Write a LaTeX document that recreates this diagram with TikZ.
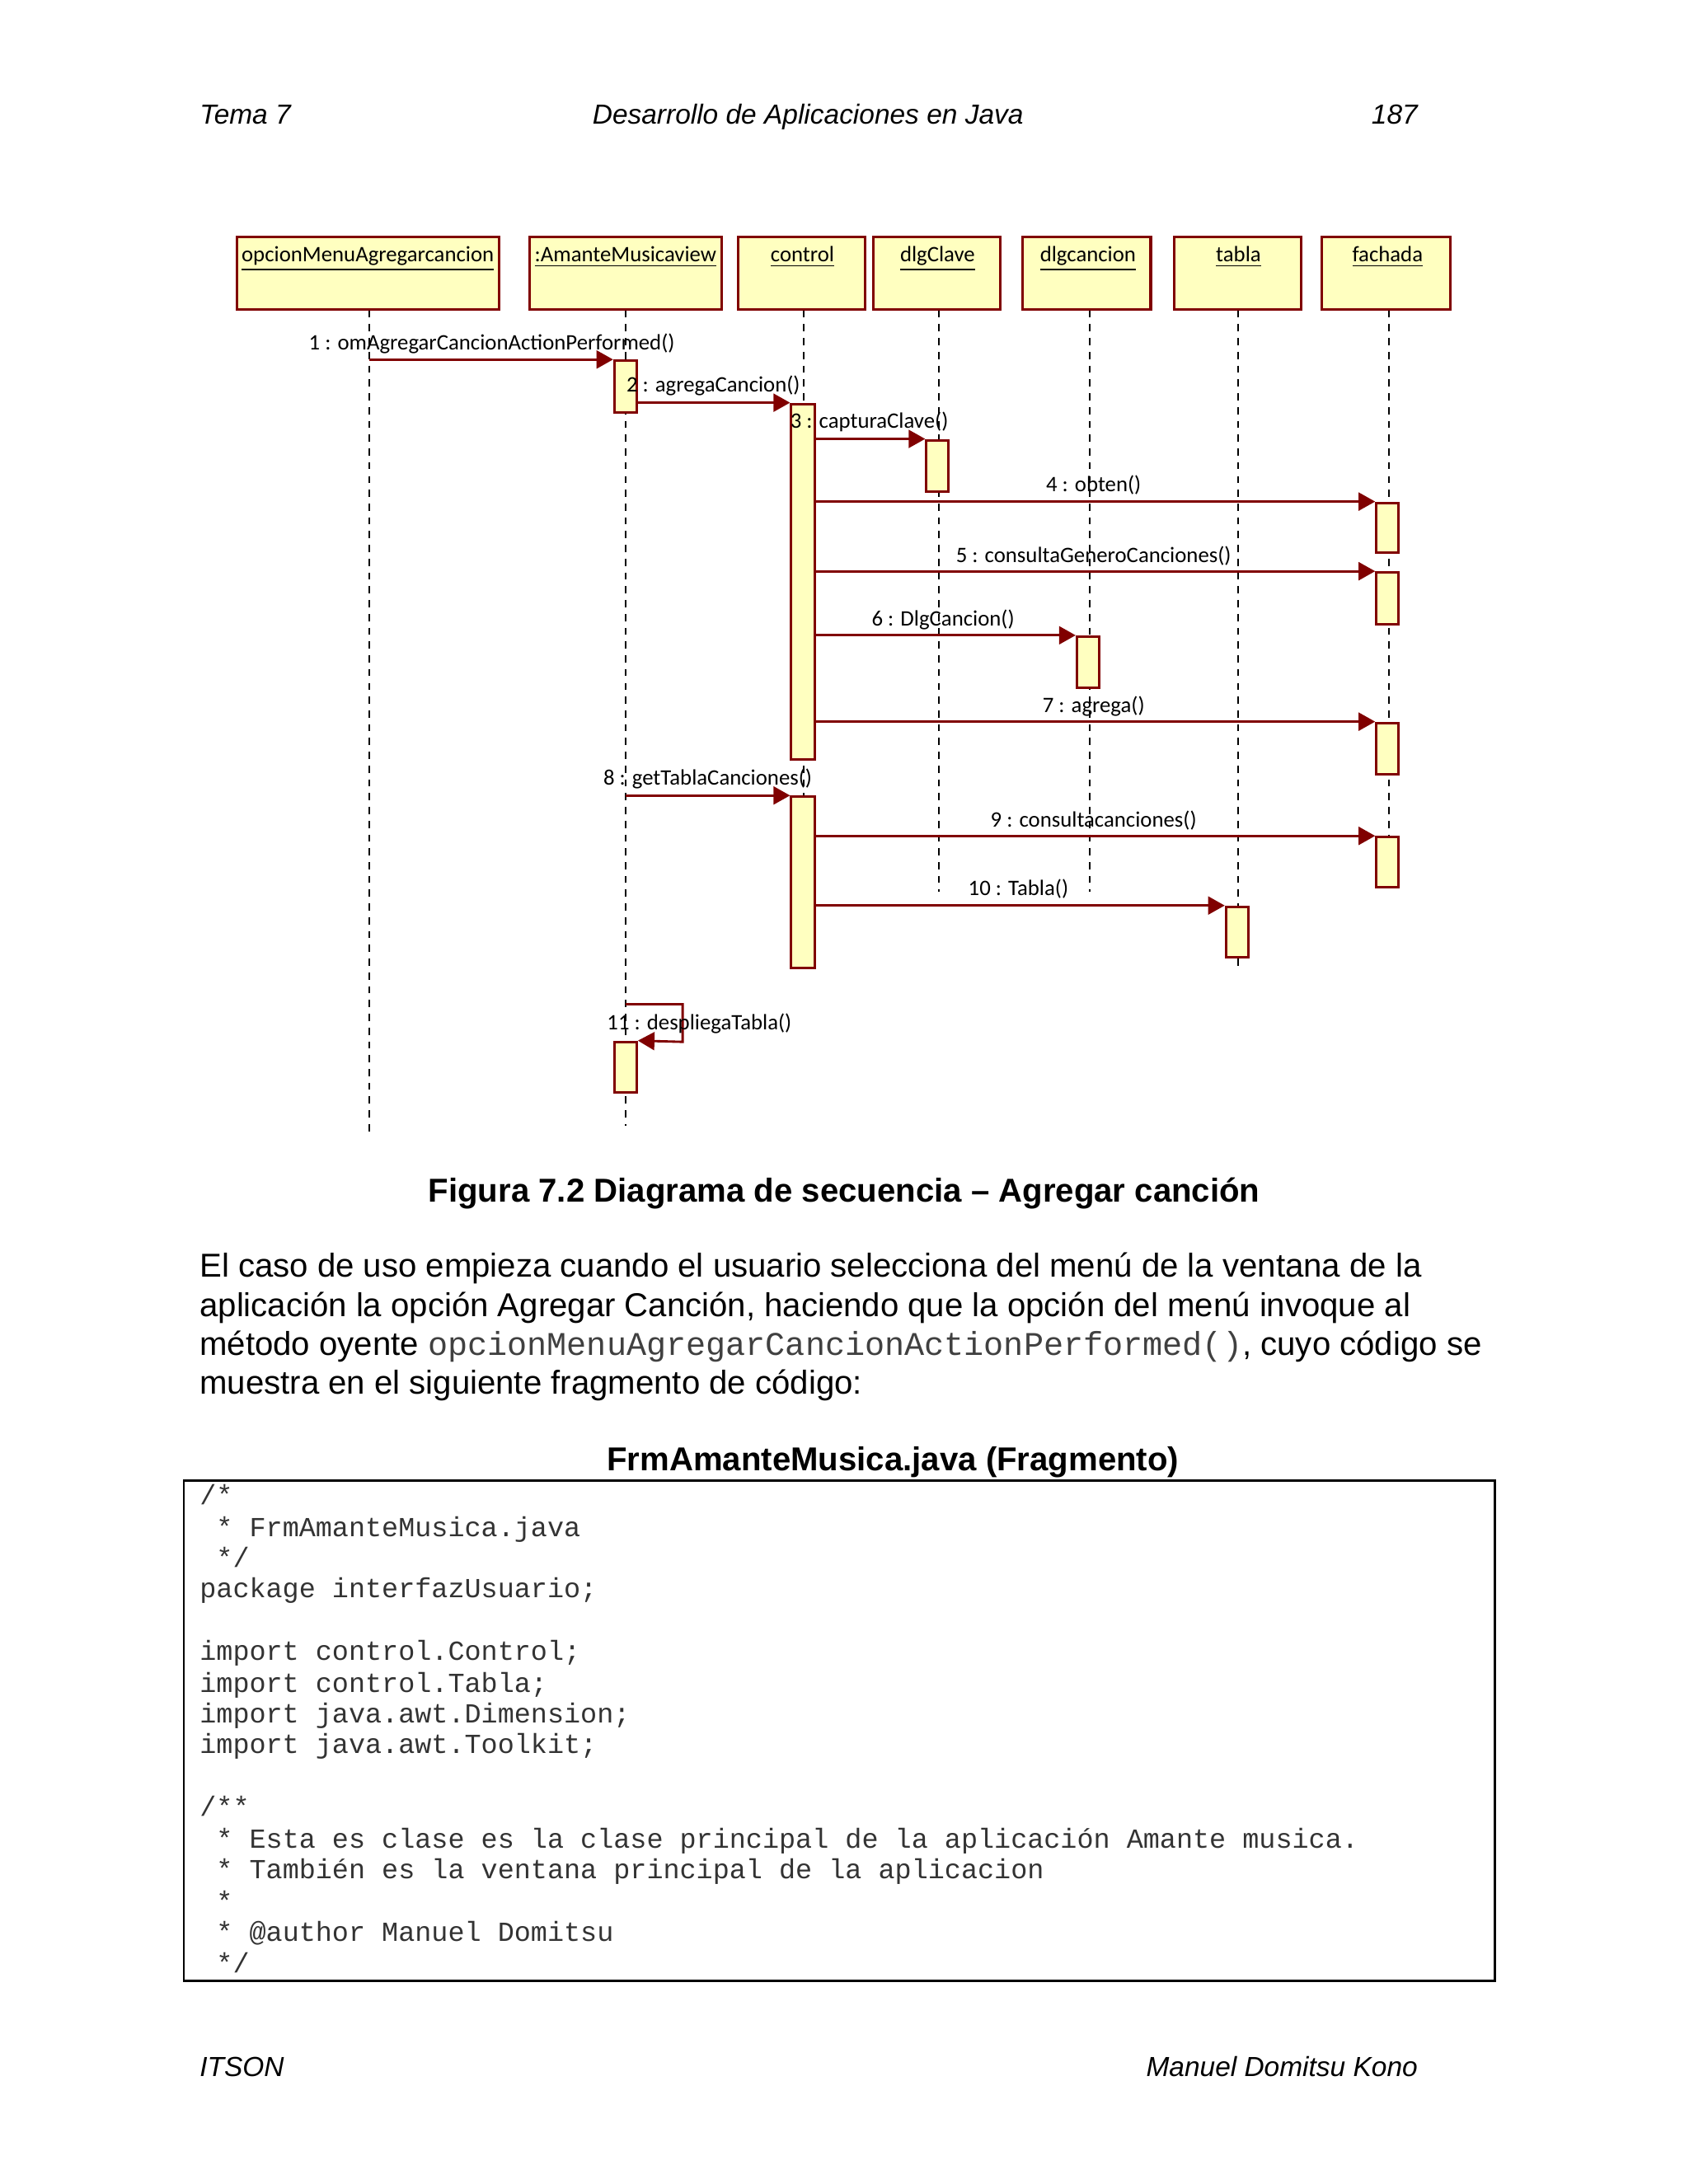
\documentclass[tikz,border=0pt]{standalone}
\usepackage{fontspec}
\setmainfont{Liberation Sans}
\setmonofont{Liberation Mono}
\newfontfamily\umlfont{Carlito}
\usetikzlibrary{arrows.meta,fit}
\definecolor{uml}{HTML}{800000}
\definecolor{umlfill}{HTML}{FFFFC0}
\begin{document}
\begin{tikzpicture}[x=0.505pt,y=-0.505pt,
  objbox/.style={draw=uml,fill=umlfill,line width=0.9pt,inner sep=0pt},
  act/.style={draw=uml,fill=umlfill,line width=0.9pt,inner sep=0pt},
  life/.style={black,line width=0.6pt,dash pattern=on 2.6pt off 2.4pt},
  msg/.style={draw=uml,line width=0.85pt,-{Triangle[length=6pt,width=6.5pt]}},
  objlbl/.style={font=\umlfont\fontsize{8}{9}\selectfont,inner sep=0pt},
  lbl/.style={font=\umlfont\fontsize{8}{9}\selectfont,inner sep=0pt},
  hdr/.style={font=\fontsize{10}{12}\selectfont\itshape,inner sep=0pt},
  body/.style={font=\fontsize{12}{14}\selectfont,inner sep=0pt,anchor=base west},
  bodybold/.style={font=\fontsize{12}{14}\selectfont\bfseries,inner sep=0pt,anchor=base},
  code/.style={font=\fontsize{10}{11.3}\selectfont\ttfamily,text=black!80,inner sep=0pt,anchor=base west}]
\useasboundingbox (0,0) rectangle (1212,1568);
\fill[white] (0,0) rectangle (1212,1568);

% header and footer
\node[hdr,anchor=base west] (h1) at (143,89) {Tema 7};
\node[hdr,anchor=base] (h2) at (580,89) {Desarrollo de Aplicaciones en Java};
\node[hdr,anchor=base east] (h3) at (1018,89) {187};
\node[hdr,anchor=base west] (f1) at (143,1491) {ITSON};
\node[hdr,anchor=base east] (f2) at (1018,1491) {Manuel Domitsu Kono};

% object boxes
\node[objbox,fit={(170,170)(358,222)}] (op) {};
\node[objbox,fit={(380,170)(518,222)}] (am) {};
\node[objbox,fit={(530,170)(621,222)}] (ct) {};
\node[objbox,fit={(627,170)(718,222)}] (dk) {};
\node[objbox,fit={(734,170)(826,222)}] (dc) {};
\node[objbox,fit={(843,170)(934,222)}] (tb) {};
\node[objbox,fit={(949,170)(1041,222)}] (fa) {};
\node[objlbl,anchor=base] (opl) at (264,188) {\underline{opcionMenuAgregarcancion}};
\node[objlbl,anchor=base] (aml) at (449,188) {\underline{:AmanteMusicaview}};
\node[objlbl,anchor=base] (ctl) at (576,188) {\underline{control}};
\node[objlbl,anchor=base] (dkl) at (673,188) {\underline{dlgClave}};
\node[objlbl,anchor=base] (dcl) at (781,188) {\underline{dlgcancion}};
\node[objlbl,anchor=base] (tbl) at (889,188) {\underline{tabla}};
\node[objlbl,anchor=base] (fal) at (996,188) {\underline{fachada}};

% lifelines
\coordinate (opE) at (265,815);
\coordinate (amE) at (449,808);
\coordinate (ctE) at (577,695);
\coordinate (dkE) at (674,640);
\coordinate (dcE) at (782,640);
\coordinate (tbE) at (889,695);
\coordinate (faE) at (997,637);
\draw[life] (op.south -| opE) -- (opE);
\draw[life] (am.south -| amE) -- (amE);
\draw[life] (ct.south -| ctE) -- (ctE);
\draw[life] (dk.south -| dkE) -- (dkE);
\draw[life] (dc.south -| dcE) -- (dcE);
\draw[life] (tb.south -| tbE) -- (tbE);
\draw[life] (fa.south -| faE) -- (faE);

% activations
\node[act,fit={(441,259)(457,296)}] (a1) {};
\node[act,fit={(568,290)(585,545)}] (c1) {};
\node[act,fit={(665,316)(681,353)}] (d1) {};
\node[act,fit={(988,361)(1004,397)}] (fa1) {};
\node[act,fit={(988,411)(1004,448)}] (fa2) {};
\node[act,fit={(773,457)(789,494)}] (dc1) {};
\node[act,fit={(988,519)(1004,556)}] (fa3) {};
\node[act,fit={(568,572)(585,695)}] (c2) {};
\node[act,fit={(988,601)(1004,637)}] (fa4) {};
\node[act,fit={(880,651)(896,687)}] (t1) {};
\node[act,fit={(441,748)(457,784)}] (a2) {};

% messages
\draw[msg] (opE |- a1.north west) -- (a1.north west);
\draw[msg] (a1.east |- c1.north west) -- (c1.north west);
\draw[msg] (c1.east |- d1.north west) -- (d1.north west);
\draw[msg] (c1.east |- fa1.north west) -- (fa1.north west);
\draw[msg] (c1.east |- fa2.north west) -- (fa2.north west);
\draw[msg] (c1.east |- dc1.north west) -- (dc1.north west);
\draw[msg] (c1.east |- fa3.north west) -- (fa3.north west);
\draw[msg] (amE |- c2.north west) -- (c2.north west);
\draw[msg] (c2.east |- fa4.north west) -- (fa4.north west);
\draw[msg] (c2.east |- t1.north west) -- (t1.north west);
\coordinate (s11a) at (449,721);
\coordinate (s11b) at (490,721);
\coordinate (s11c) at (490,748);
\draw[msg] (s11a) -- (s11b) -- (s11c) -- (a2.north east);

% message labels
\node[lbl] (m1) at (353,247) {1 : omAgregarCancionActionPerformed()};
\node[lbl] (m2) at (512,277) {2 : agregaCancion()};
\node[lbl] (m3) at (624,303) {3 : capturaClave()};
\node[lbl] (m4) at (785,348) {4 : obten()};
\node[lbl] (m5) at (785,399) {5 : consultaGeneroCanciones()};
\node[lbl] (m6) at (677,445) {6 : DlgCancion()};
\node[lbl] (m7) at (785,507) {7 : agrega()};
\node[lbl] (m8) at (508,559) {8 : getTablaCanciones()};
\node[lbl] (m9) at (785,589) {9 : consultacanciones()};
\node[lbl] (m10) at (731,638) {10 : Tabla()};
\node[lbl] (m11) at (502,735) {11 : despliegaTabla()};

% caption and text
\node[bodybold] (cap) at (606,863) {Figura 7.2 Diagrama de secuencia – Agregar canción};
\node[body] (p1) at (143,917) {El caso de uso empieza cuando el usuario selecciona del menú de la ventana de la};
\node[body] (p2) at (143,945) {aplicación la opción Agregar Canción, haciendo que la opción del menú invoque al};
\node[body] (p3) at (143,973) {método oyente {\ttfamily\color{black!75}opcionMenuAgregarCancionActionPerformed()}, cuyo código se};
\node[body] (p4) at (143,1001) {muestra en el siguiente fragmento de código:};
\node[bodybold] (ttl) at (641,1056) {FrmAmanteMusica.java (Fragmento)};

% code box
\node[draw=black,line width=0.75pt,inner sep=0pt,fit={(132,1063)(1073,1422)}] (box) {};
\node[code] (l1) at (143,1080) {/*};
\node[code] (l2) at (143,1103) {\ * FrmAmanteMusica.java};
\node[code] (l3) at (143,1125) {\ */};
\node[code] (l4) at (143,1147) {package interfazUsuario;};
\node[code] (l5) at (143,1192) {import control.Control;};
\node[code] (l6) at (143,1215) {import control.Tabla;};
\node[code] (l7) at (143,1237) {import java.awt.Dimension;};
\node[code] (l8) at (143,1259) {import java.awt.Toolkit;};
\node[code] (l9) at (143,1304) {/**};
\node[code] (l10) at (143,1327) {\ * Esta es clase es la clase principal de la aplicación Amante musica.};
\node[code] (l11) at (143,1349) {\ * También es la ventana principal de la aplicacion};
\node[code] (l12) at (143,1372) {\ *};
\node[code] (l13) at (143,1394) {\ * @author Manuel Domitsu};
\node[code] (l14) at (143,1416) {\ */};
\end{tikzpicture}
\end{document}
